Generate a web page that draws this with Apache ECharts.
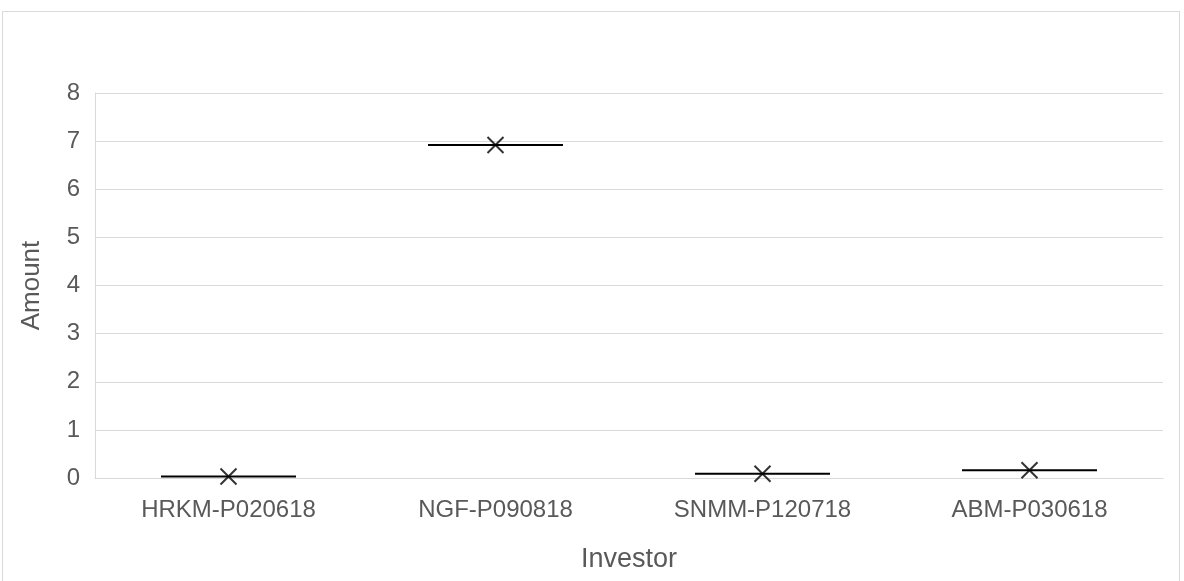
<!DOCTYPE html>
<html>
<head>
<meta charset="utf-8">
<script src="https://cdn.jsdelivr.net/npm/echarts@6/dist/echarts.min.js"></script>
<style>
  html, body { margin: 0; padding: 0; background: #fff; }
  #chart { width: 1184px; height: 581px; }
</style>
</head>
<body>
<div id="chart"></div>
<script>
// Investor amounts: one observation each, so each box collapses to a single line
const categories = ['HRKM-P020618', 'NGF-P090818', 'SNMM-P120718', 'ABM-P030618'];
const amounts = [0.03, 6.92, 0.09, 0.16];
const yTicks = [0, 1, 2, 3, 4, 5, 6, 7, 8];

const boxData = amounts.map(v => [v, v, v, v, v]);
const meanData = amounts.map((v, i) => [i, v]);

const chart = echarts.init(document.getElementById('chart'));
const textColor = '#595959';
const font = '"Liberation Sans", Arial, sans-serif';

chart.setOption({
  animation: false,
  backgroundColor: '#fff',
  graphic: [{
    type: 'rect',
    shape: { x: 2.5, y: 11.5, width: 1177, height: 600 },
    style: { fill: 'none', stroke: '#d9d9d9', lineWidth: 1 },
    silent: true
  }],
  grid: { left: 95, right: 21, top: 93, bottom: 103 },
  xAxis: {
    type: 'category',
    data: categories,
    name: 'Investor',
    nameLocation: 'middle',
    nameGap: 68,
    nameTextStyle: { color: textColor, fontSize: 27, fontFamily: font },
    axisLine: { lineStyle: { color: '#d9d9d9', width: 1 } },
    axisTick: { show: false },
    axisLabel: { color: textColor, fontSize: 24, fontFamily: font, margin: 20 }
  },
  yAxis: {
    type: 'value',
    min: yTicks[0],
    max: yTicks[yTicks.length - 1],
    interval: 1,
    name: 'Amount',
    nameLocation: 'middle',
    nameGap: 50,
    nameTextStyle: { color: textColor, fontSize: 26, fontFamily: font },
    axisLine: { show: true, lineStyle: { color: '#d9d9d9', width: 1 } },
    axisTick: { show: false },
    axisLabel: { color: textColor, fontSize: 24, fontFamily: font, margin: 15 },
    splitLine: { lineStyle: { color: '#d9d9d9', width: 1 } }
  },
  series: [
    {
      type: 'boxplot',
      data: boxData,
      boxWidth: [135, 135],
      itemStyle: { color: '#fff', borderColor: '#000', borderWidth: 2 },
      z: 3
    },
    {
      type: 'scatter',
      data: meanData,
      symbol: 'path://M0,0L10,10M10,0L0,10',
      symbolSize: 16,
      itemStyle: { color: 'rgba(0,0,0,0)', borderColor: '#000', borderWidth: 2 },
      z: 4
    }
  ]
});
</script>
</body>
</html>
